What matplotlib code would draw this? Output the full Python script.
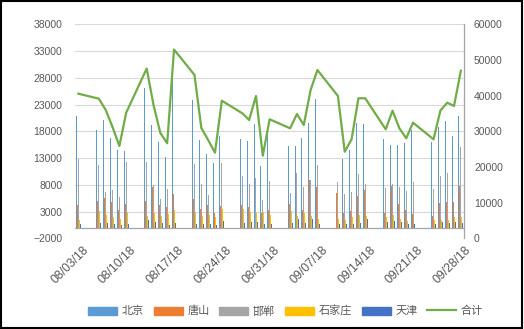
import datetime as dt
import matplotlib
matplotlib.use("Agg")
import matplotlib.pyplot as plt
import matplotlib.dates as mdates
import matplotlib.transforms as mtransforms
from matplotlib.patches import Rectangle
from matplotlib.lines import Line2D

plt.rcParams['font.family'] = ['Liberation Sans', 'Noto Sans CJK SC', 'DejaVu Sans']

# trading days, Aug 3 - Sep 28 2018
day_strs = ["2018-08-03",
            "2018-08-06", "2018-08-07", "2018-08-08", "2018-08-09", "2018-08-10",
            "2018-08-13", "2018-08-14", "2018-08-15", "2018-08-16", "2018-08-17",
            "2018-08-20", "2018-08-21", "2018-08-22", "2018-08-23", "2018-08-24",
            "2018-08-27", "2018-08-28", "2018-08-29", "2018-08-30", "2018-08-31",
            "2018-09-03", "2018-09-04", "2018-09-05", "2018-09-06", "2018-09-07",
            "2018-09-10", "2018-09-11", "2018-09-12", "2018-09-13", "2018-09-14",
            "2018-09-17", "2018-09-18", "2018-09-19", "2018-09-20", "2018-09-21",
            "2018-09-24", "2018-09-25", "2018-09-26", "2018-09-27", "2018-09-28"]

beijing = [20850,
           18220, 20100, 16790, 14480, 14290,
           26030, 19160, 16030, 13220, 28600,
           23840, 16350, 13730, 11990, 17100,
           16540, 16160, 19350, 11540, 17610,
           15230, 15230, 16790, 19540, 24030,
           21600, 12790, 14480, 19480, 19350,
           16540, 15410, 15410, 15730, 18220,
           15920, 18730, 19970, 17160, 20850]
tangshan = [4180,
            4930, 5550, 4740, 3240, 4420,
            4930, 7600, 4180, 3860, 6370,
            5300, 3430, 4180, 2730, 3990,
            4180, 3800, 6800, 2730, 3240,
            4360, 5110, 3240, 8990, 7600,
            6480, 2730, 3050, 5920, 6990,
            2730, 7790, 4360, 3240, 2600,
            2120, 4610, 4800, 4800, 7790]
handan = [12790,
          11670, 6610, 6990, 5680, 12230,
          12230, 8050, 5430, 7170, 13860,
          11860, 8240, 6050, 8350, 11990,
          9610, 8110, 9230, 5110, 8670,
          6480, 10230, 7600, 8860, 11670,
          8430, 6240, 6670, 9980, 8110,
          7490, 8240, 7600, 6800, 8430,
          7170, 9660, 10230, 12100, 15100]
shijiazhuang = [1370,
                3110, 2300, 1990, 1550, 3000,
                2170, 2730, 2120, 2620, 3200,
                2920, 2170, 2300, 1990, 3560,
                3430, 2920, 2920, 2920, 2300,
                3110, 2170, 2730, 2120, 1690,
                1690, 1370, 1990, 2300, 2120,
                1990, 2300, 1690, 1240, 2300,
                1370, 1370, 1370, 1990, 1990]
tianjin = [620,
           870, 870, 620, 490, 620,
           1370, 1050, 870, 560, 870,
           750, 620, 620, 560, 1180,
           870, 1050, 1050, 620, 620,
           870, 1550, 940, 1550, 750,
           750, 750, 750, 870, 1690,
           1050, 1180, 1050, 620, 750,
           620, 1050, 940, 1050, 870]
total = [40550,
         39140, 35980, 31200, 25880, 35220,
         47600, 37380, 29530, 26640, 52940,
         45790, 30930, 27560, 24000, 38580,
         35050, 33170, 39900, 23160, 33370,
         30840, 34850, 31770, 41580, 47190,
         39900, 24280, 27760, 39260, 39260,
         30560, 35780, 30840, 28040, 32410,
         27760, 35780, 38020, 37100, 47000]

series_names = ["北京", "唐山", "邯郸", "石家庄", "天津"]
series_vals = [beijing, tangshan, handan, shijiazhuang, tianjin]
series_colors = ["#5B9BD5", "#ED7D31", "#A5A5A5", "#FFC000", "#4472C4"]
line_color = "#70AD47"
text_color = "#595959"

x = mdates.date2num([dt.datetime.strptime(s, "%Y-%m-%d") for s in day_strs])

fig = plt.figure(figsize=(5.24, 3.29), dpi=100)
ax = fig.add_axes([0.1431, 0.2757, 0.886 - 0.1431, 0.9261 - 0.2757])
ax2 = ax.twinx()

# five thin bars clustered inside each day
bw = 0.14
for i, (vals, col) in enumerate(zip(series_vals, series_colors)):
    off = (i - 2) * bw
    ax.bar(x + off, vals, width=bw, color=col, linewidth=0, zorder=3)

ax2.plot(x, total, color=line_color, linewidth=1.6, zorder=4)

x0 = mdates.date2num(dt.datetime(2018, 8, 3))
x1 = mdates.date2num(dt.datetime(2018, 9, 28))
ax.set_xlim(x0 - 0.5, x1 + 0.5)
ax.set_ylim(-2000, 38000)
ax2.set_ylim(0, 60000)
ax.set_yticks(range(-2000, 38001, 5000))
ax2.set_yticks(range(0, 60001, 10000))

ticks = [x0 + 7 * k for k in range(9)]
ax.set_xticks(ticks)
ax.set_xticklabels([mdates.num2date(t).strftime("%m/%d/%y") for t in ticks],
                   rotation=45, ha="right", va="top", rotation_mode="anchor")

ax.grid(axis="y", color="#D9D9D9", linewidth=0.8, zorder=0)
ax.axhline(0, color="#A6A6A6", linewidth=0.9, zorder=2)
for a in (ax, ax2):
    for s in ("left", "top", "bottom", "right"):
        a.spines[s].set_visible(False)
ax2.spines["right"].set_visible(True)
ax2.spines["right"].set_color("#A6A6A6")
ax2.spines["right"].set_linewidth(0.9)

ax.tick_params(axis="y", length=0, pad=9, labelsize=7.5, labelcolor=text_color)
ax.tick_params(axis="x", length=0, pad=4, labelsize=8.8, labelcolor=text_color)
ax2.tick_params(axis="y", length=0, pad=7, labelsize=7.5, labelcolor=text_color)

# nudge the slanted date labels a few pixels to the right
shift = mtransforms.ScaledTranslation(4 / 100, 0, fig.dpi_scale_trans)
for lbl in ax.get_xticklabels():
    lbl.set_transform(lbl.get_transform() + shift)

handles = [Rectangle((0, 0), 1, 1, color=c) for c in series_colors]
handles.append(Line2D([0], [0], color=line_color, linewidth=1.6))
fig.legend(handles, series_names + ["合计"], loc="center", bbox_to_anchor=(0.545, 0.055),
           ncol=6, frameon=False, prop={"family": ["Noto Sans CJK SC"], "size": 8},
           handlelength=2.6, handleheight=0.75, handletextpad=0.4, columnspacing=0.9,
           labelcolor=text_color)

# outer frame
fig.add_artist(Rectangle((0.002, 0.003), 0.995, 0.994, transform=fig.transFigure,
                         fill=False, edgecolor="black", linewidth=1.5))

fig.savefig("out.png", dpi=100)
